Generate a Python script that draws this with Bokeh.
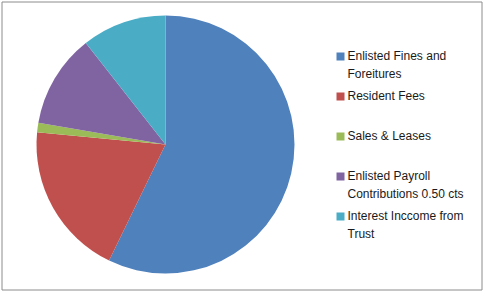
import math
from bokeh.plotting import figure
from bokeh.models import Range1d, ColumnDataSource
from bokeh.core.properties import value
from bokeh.embed import file_html
from bokeh.resources import INLINE

categories = [
    "Enlisted Fines and\nForeitures",
    "Resident  Fees",
    "Sales &  Leases",
    "Enlisted Payroll\nContributions 0.50 cts",
    "Interest Inccome from\nTrust",
]
shares = [57.2, 19.3, 1.2, 11.7, 10.6]
colors = ["#4F81BD", "#C0504D", "#9BBB59", "#8064A2", "#4BACC6"]

W, H = 483, 291
p = figure(width=W, height=H, output_backend="svg", toolbar_location=None,
           x_range=Range1d(0, W), y_range=Range1d(0, H), min_border=0,
           outline_line_color=None)
p.axis.visible = False
p.grid.visible = False
p.background_fill_color = "white"
p.border_fill_color = "white"

# chart border
p.quad(left=[1.5], right=[481.5], top=[H - 1.5], bottom=[H - 289.5],
       fill_color=None, line_color="#8c8c8c", line_width=1)

total = sum(shares)
starts, ends = [], []
acc = 0.0
for s in shares:
    a0 = math.pi / 2 - acc / total * 2 * math.pi
    acc += s
    a1 = math.pi / 2 - acc / total * 2 * math.pi
    starts.append(a0)
    ends.append(a1)

cx, cy, r = 165, H - 144, 129
src = ColumnDataSource(dict(start=starts, end=ends, color=colors))
p.wedge(x=cx, y=cy, radius=r, start_angle="start", end_angle="end",
        direction="clock", fill_color="color", line_color=None, source=src)

# legend
lx, ly0, step = 340, H - 56, 40
ys = [ly0 - i * step for i in range(len(categories))]
p.rect(x=[lx] * len(categories), y=ys, width=8, height=8,
       fill_color=colors, line_color=None)
p.text(x=[347] * len(categories), y=[y + 8 for y in ys], text=categories,
       text_font=value("Liberation Sans"), text_font_size="12px",
       text_baseline="top", text_align="left", text_color="#1a1a1a",
       text_line_height=1.33)

open("out.html", "w").write(file_html(p, INLINE))
